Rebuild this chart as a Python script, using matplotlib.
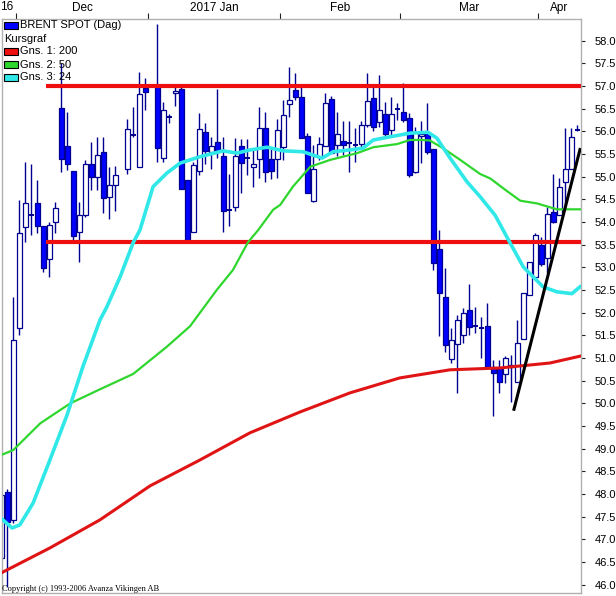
import matplotlib
matplotlib.use("Agg")
import matplotlib.pyplot as plt
from matplotlib.patches import Rectangle
import numpy as np
import pandas as pd

# Brent spot, daily candles (weekday slots, None = holiday)
dates = pd.bdate_range("2016-11-28", "2017-04-11")

opens = [46.59, 48.04, 47.42, 51.66, 53.88, 54.15, 54.43, 53.91, 53.18, 53.99,
         56.51, 55.68, 55.13, 53.77, 54.15, 55.28, 55.00, 55.54, 54.55, 54.82,
         None, 55.18, 55.93, 55.21, 56.96, None, 57.02, 55.41, 56.31, 56.84,
         56.93, 54.93, 53.79, 55.13, 55.98, 55.55, 55.76, 55.46, 54.27, 54.34,
         55.68, 55.42, 55.22, 55.38, 56.07, 55.38, 55.38, 55.66, 56.60, 56.91,
         56.76, 55.90, 54.47, 55.44, 55.68, 56.71, 55.70, 55.79, 55.75, 55.71,
         55.72, 56.14, 56.73, 56.21, 56.38, 56.03, 56.50, 56.43, 56.29, 55.11,
         55.90, 55.99, 55.60, 53.40, 52.34, 50.97, 51.32, 51.51, 52.06, 51.70,
         51.67, 51.70, 50.81, 50.77, 50.65, 50.80, 50.46, 51.41, 52.39, 52.79,
         53.49, 53.20, 54.23, 54.16, 54.89, 55.18, 56.02]
highs = [48.80, 48.10, 52.34, 54.48, 55.33, 55.29, 54.93, 53.91, 54.01, 54.45,
         57.50, 56.43, 55.13, 54.45, 55.37, 55.77, 55.88, 55.87, 55.22, 55.24,
         None, 56.27, 56.53, 57.30, 57.17, None, 58.37, 56.65, 56.38, 56.99,
         57.01, 54.93, 55.33, 56.40, 56.19, 55.87, 56.93, 55.87, 55.07, 55.85,
         55.83, 55.83, 55.63, 56.53, 56.43, 55.60, 56.27, 56.69, 57.43, 57.29,
         57.02, 55.97, 55.70, 55.88, 56.85, 56.78, 56.43, 56.23, 56.22, 56.07,
         56.22, 57.28, 57.02, 57.24, 56.65, 56.75, 56.63, 57.06, 56.41, 56.10,
         56.23, 56.62, 55.60, 53.82, 52.98, 51.66, 51.95, 52.10, 52.63, 52.13,
         51.91, 52.21, 50.96, 50.96, 51.04, 51.07, 51.84, 52.44, 53.12, 53.75,
         53.68, 54.34, 55.06, 54.97, 56.07, 56.07, 56.14]
lows = [45.95, 45.95, 47.35, 51.51, 53.57, 53.71, 53.75, 52.90, 52.79, 53.76,
        55.11, 55.14, 53.60, 53.12, 54.10, 54.71, 54.71, 54.20, 54.06, 54.25,
        None, 55.06, 55.88, 55.21, 56.47, None, 55.33, 55.33, 56.18, 56.56,
        54.72, 53.57, 53.79, 55.04, 55.28, 55.18, 55.41, 53.77, 53.91, 54.25,
        54.65, 55.04, 54.77, 54.96, 54.89, 54.94, 54.96, 55.37, 56.32, 56.69,
        55.85, 54.65, 54.45, 55.37, 55.68, 55.53, 55.45, 55.48, 55.11, 55.33,
        55.60, 56.10, 56.00, 56.10, 55.85, 55.90, 56.25, 56.20, 55.00, 55.08,
        55.30, 55.50, 52.94, 51.49, 51.14, 50.90, 50.23, 51.34, 51.51, 51.56,
        50.99, 50.81, 49.71, 50.23, 50.44, 50.04, 50.46, 51.41, 52.39, 52.79,
        53.04, 52.87, 53.97, 54.16, 54.34, 55.18, 56.00]
closes = [47.98, 47.38, 51.39, 53.76, 54.41, 54.18, 53.92, 52.98, 53.93, 54.30,
          55.38, 55.27, 53.69, 54.15, 55.28, 54.99, 55.48, 54.52, 54.82, 55.04,
          None, 56.05, 55.95, 56.82, 56.86, None, 55.63, 56.47, 56.33, 56.89,
          54.72, 53.59, 55.26, 56.05, 55.57, 55.68, 55.57, 54.25, 54.29, 55.46,
          55.31, 55.44, 55.28, 56.07, 55.11, 55.13, 56.02, 56.36, 56.69, 56.76,
          55.85, 54.65, 55.16, 55.72, 56.62, 55.53, 55.94, 55.70, 55.77, 55.73,
          56.14, 56.68, 56.09, 56.47, 55.94, 56.38, 56.52, 56.25, 55.04, 55.99,
          55.95, 55.55, 53.10, 52.44, 51.28, 51.40, 51.84, 51.99, 51.69, 51.72,
          51.69, 50.81, 50.68, 50.46, 50.99, 50.85, 51.34, 52.44, 53.12, 53.71,
          53.07, 54.18, 54.01, 54.78, 55.16, 55.87, 56.04]

# moving averages (slot position, value)
ma200_idx = [0, 8.1, 16.45, 24.8, 33.1, 41.45, 49.8, 58.1, 66.4, 74.8, 83.1,
             91.45, 96.45]
ma200_val = [46.26, 46.81, 47.43, 48.18, 48.75, 49.35, 49.81, 50.23, 50.56,
             50.74, 50.78, 50.89, 51.04]
ma50_idx = [0, 2, 6.5, 11.5, 16.45, 22, 27.6, 31.45, 35.9, 38.6, 41.1, 42.8,
            45.3, 46.5, 48.6, 51.5, 54.8, 59.3, 62, 66, 68.1, 69.8, 71.4, 73.6,
            76.5, 79.8, 81.5, 84, 86.5, 89.3, 92.6, 96.45]
ma50_val = [48.86, 48.97, 49.56, 50.00, 50.31, 50.65, 51.25, 51.70, 52.50,
            52.94, 53.55, 53.82, 54.27, 54.38, 54.78, 55.22, 55.37, 55.52,
            55.65, 55.72, 55.81, 55.81, 55.80, 55.63, 55.37, 55.06, 54.96,
            54.71, 54.47, 54.41, 54.28, 54.28]
ma24_idx = [0, 1.8, 3.1, 5.3, 8.1, 10.95, 13.6, 16.45, 17.6, 19.8, 22, 23.1,
            25.3, 27.6, 29.8, 33.1, 36.95, 39.3, 41.45, 44.3, 47, 50.3, 53.45,
            55.3, 58.1, 60.3, 62, 64.8, 68.1, 71.1, 72.6, 74.8, 77.6, 79.8,
            82.3, 84.8, 87, 90.3, 92.6, 95.1, 96.45]
ma24_val = [47.46, 47.25, 47.32, 47.80, 48.75, 49.74, 50.81, 51.84, 52.13,
            52.79, 53.55, 53.82, 54.78, 55.08, 55.30, 55.44, 55.57, 55.52,
            55.59, 55.65, 55.57, 55.55, 55.41, 55.55, 55.59, 55.63, 55.81,
            55.88, 55.96, 55.98, 55.85, 55.41, 54.89, 54.56, 54.15, 53.54,
            53.01, 52.57, 52.46, 52.42, 52.57]

# drawn support / resistance and trend line
levels = [57.0, 53.57]
level_start = 7.4
trend_idx = [85.45, 96.45]
trend_val = [49.87, 55.60]

months = ["Dec", "2017 Jan", "Feb", "Mar", "Apr"]
month_first = [3, 25, 47, 67, 90]

W, H = 616, 596
fig = plt.figure(figsize=(W / 100, H / 100), dpi=100)
plt.rcParams['font.family'] = ['Liberation Sans', 'DejaVu Sans']

ax = fig.add_axes([1.5 / W, 1 - 593 / H, 579.2 / W, 573.7 / H])
ax.set_xlim(0.033, 96.57)
ax.set_ylim(45.816, 58.472)

edge = '#000090'
for i in range(len(dates)):
    o, h, l, c = opens[i], highs[i], lows[i], closes[i]
    if o is None:
        continue
    ax.vlines(i, l, h, color=edge, lw=1.0, zorder=2)
    if abs(c - o) < 0.04:
        ax.hlines(o, i - 0.38, i + 0.38, color=edge, lw=1.4, zorder=2.1)
    else:
        fc = '#0000ff' if c < o else 'white'
        ax.add_patch(Rectangle((i - 0.37, min(o, c)), 0.74, abs(c - o),
                               facecolor=fc, edgecolor=edge, lw=0.9, zorder=2.1))

for lv in levels:
    ax.plot([level_start, 97], [lv, lv], color='#ee1010', lw=3.0, zorder=3,
            solid_capstyle='butt')

ax.plot(ma200_idx, ma200_val, color='#e01414', lw=2.2, zorder=4)
ax.plot(ma50_idx, ma50_val, color='#2ed62e', lw=1.6, zorder=4)
ax.plot(ma24_idx, ma24_val, color='#30e8e8', lw=2.6, zorder=4)
ax.plot(trend_idx, trend_val, color='black', lw=2.2, zorder=5)

# axes styling
for s in ax.spines.values():
    s.set_color('#b0b0b0')
    s.set_linewidth(1.0)

ax.yaxis.tick_right()
yt = np.arange(46.0, 58.01, 0.5)
ax.set_yticks(yt)
ax.set_yticklabels([f"{v:.1f}" for v in yt])
ax.tick_params(axis='y', direction='out', length=3, width=0.8, color='#202020',
               pad=7, labelsize=8, labelcolor='black')

ax.xaxis.tick_top()
ax.set_xticks([m - 0.5 for m in month_first])
ax.set_xticklabels([])
bounds = [m - 0.5 for m in month_first] + [96.57]
mids = [(bounds[k] + bounds[k + 1]) / 2 for k in range(len(months))]
ax.set_xticks(mids, minor=True)
ax.set_xticklabels(months, minor=True)
ax.tick_params(axis='x', which='major', direction='out', length=4, width=0.8,
               color='#202020')
ax.tick_params(axis='x', which='minor', length=0, pad=4, labelsize=8.5)
fig.text(0.0, 1 - 7 / H, "16", fontsize=8.5, ha='left', va='center')

# legend block
def fx(x):
    return x / W

def fy(y):
    return 1 - y / H

legend = [("BRENT SPOT (Dag)", '#0000ff', 25.5), ("Kursgraf", None, 39),
          ("Gns. 1: 200", '#ee1010', 51.5), ("Gns. 2: 50", '#2ed62e', 64.5),
          ("Gns. 3: 24", '#30e8e8', 77.5)]
for txt, col, yc in legend:
    if col is None:
        fig.text(fx(4), fy(yc), txt, fontsize=8, va='center', ha='left')
        continue
    fig.add_artist(Rectangle((fx(4), fy(yc + 3.5)), 14 / W, 7 / H,
                             facecolor=col, edgecolor='black', lw=0.8,
                             transform=fig.transFigure))
    fig.text(fx(20.5), fy(yc), txt, fontsize=8, va='center', ha='left')

fig.text(fx(2), fy(589), "Copyright (c) 1993-2006 Avanza Vikingen AB",
         fontsize=6, family='Liberation Serif', va='center', ha='left')

fig.savefig("out.png", dpi=100)
